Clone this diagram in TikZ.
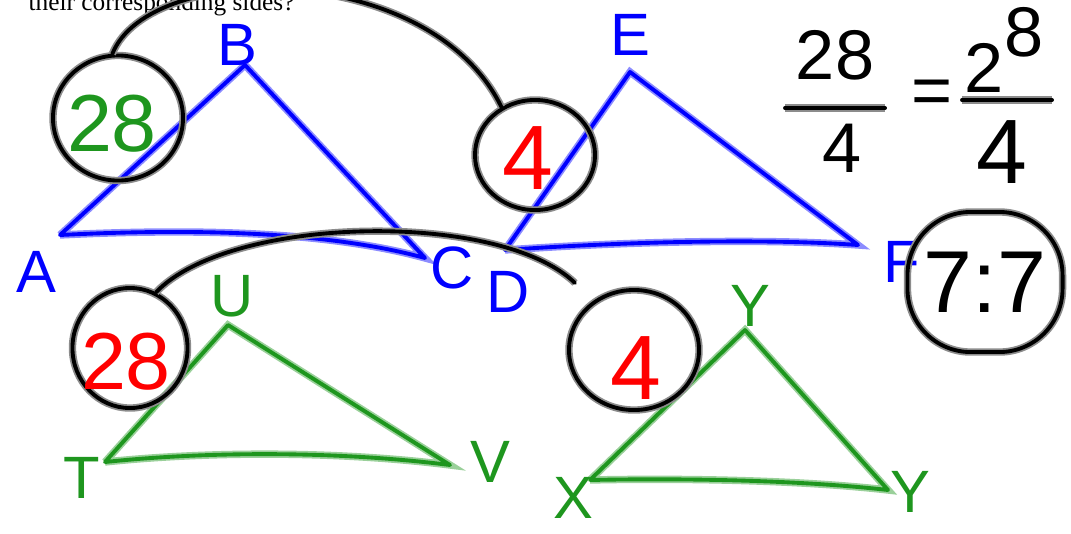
\documentclass[tikz,border=0pt]{standalone}
\usepackage{fontspec}
\setmainfont{Liberation Serif}
\setsansfont{Liberation Sans}
\usetikzlibrary{shapes.geometric}

\definecolor{penblue}{RGB}{0,0,255}
\definecolor{pengreen}{RGB}{30,150,30}
\definecolor{penred}{RGB}{255,0,0}

\tikzset{
  ink/.style={line width=1.1pt, line cap=round, line join=round,
    preaction={draw=#1!45, line width=2.1pt}},
  ink/.default=black,
  letter/.style={font=\sffamily\fontsize{17}{19}\selectfont, inner sep=0pt},
  bignum/.style={font=\sffamily\fontsize{20}{22}\selectfont, inner sep=0pt},
  ringnum/.style={font=\sffamily\fontsize{26}{28}\selectfont, inner sep=0pt},
  ring/.style={ellipse, draw=black, ink, inner sep=0pt}
}

\begin{document}
\begin{tikzpicture}[x=0.01cm, y=-0.01cm]
    \useasboundingbox (0,0) rectangle (1071,533);

    % question text, cut off at the top
    \node[anchor=base west, inner sep=0pt, font=\fontsize{7.2}{8}\selectfont] (question) at (28,10) {their corresponding sides?};

    % Triangle ABC
    \coordinate (A) at (60,235);
    \coordinate (B) at (245,65);
    \coordinate (C) at (425,258);
    \draw[penblue, ink=penblue] (A) -- (B) -- (C) .. controls (330,232) and (200,228) .. (A);
    \node[letter, penblue] (labA) at (36,272) {A};
    \node[letter, penblue] (labB) at (237,45) {B};
    \node[letter, penblue] (labC) at (452,268) {C};

    % Triangle DEF
    \coordinate (D) at (505,250);
    \coordinate (E) at (630,72);
    \coordinate (F) at (858,245);
    \draw[penblue, ink=penblue] (D) -- (E) -- (F) .. controls (760,238) and (620,242) .. (D);
    \node[letter, penblue] (labD) at (508,292) {D};
    \node[letter, penblue] (labE) at (630,35) {E};
    \node[letter, penblue] (labF) at (902,262) {F};

    % Triangle TUV
    \coordinate (T) at (105,462);
    \coordinate (U) at (228,325);
    \coordinate (V) at (450,465);
    \draw[pengreen, ink=pengreen] (T) -- (U) -- (V) .. controls (330,450) and (200,452) .. (T);
    \node[letter, pengreen] (labT) at (82,478) {T};
    \node[letter, pengreen] (labU) at (232,296) {U};
    \node[letter, pengreen] (labV) at (490,462) {V};

    % Triangle XYY
    \coordinate (X) at (590,480);
    \coordinate (Y) at (745,330);
    \coordinate (Z) at (888,490);
    \draw[pengreen, ink=pengreen] (X) -- (Y) -- (Z) .. controls (800,480) and (680,478) .. (X);
    \node[letter, pengreen] (labX) at (573,498) {X};
    \node[letter, pengreen] (labY) at (750,306) {Y};
    \node[letter, pengreen] (labZ) at (910,492) {Y};

    % circled side lengths
    \node[ring, minimum width=1.3cm, minimum height=1.25cm] (sideAB) at (118,118) {};
    \node[ringnum, pengreen, font=\sffamily\fontsize{23}{25}\selectfont] (numAB) at (112,124) {28};
    \node[ring, minimum width=1.2cm, minimum height=1.1cm] (sideDE) at (535,155) {};
    \node[ringnum, penred] (numDE) at (528,158) {4};
    \node[ring, minimum width=1.15cm, minimum height=1.2cm] (sideTU) at (130,348) {};
    \node[ringnum, penred, font=\sffamily\fontsize{23}{25}\selectfont] (numTU) at (126,362) {28};
    \node[ring, minimum width=1.3cm, minimum height=1.2cm] (sideXY) at (634,350) {};
    \node[ringnum, penred] (numXY) at (636,368) {4};

    % arcs joining matching sides
    \draw[ink] (sideAB.95) .. controls (150,-40) and (430,-40) .. (sideDE.125);
    \draw[ink] (sideTU.65) .. controls (230,215) and (500,210) .. (575,283);

    % ratio
    \node[bignum] (numL) at (835,55) {28};
    \coordinate (barL1) at (785,108);
    \coordinate (barL2) at (885,108);
    \draw[ink] (barL1) -- (barL2);
    \node[bignum] (denL) at (842,148) {4};
    \node[bignum] (eqsign) at (932,97) {=};
    \node[bignum] (numR) at (1004,50) {2\raisebox{0.5em}{8}};
    \coordinate (barR1) at (962,100);
    \coordinate (barR2) at (1052,100);
    \draw[ink] (barR1) -- (barR2);
    \node[bignum, font=\sffamily\fontsize{26}{28}\selectfont] (denR) at (1002,152) {4};

    % answer
    \node[draw, ink, rounded corners=18pt, minimum width=1.55cm, minimum height=1.4cm,
      font=\sffamily\fontsize{25}{27}\selectfont] (answer) at (985,282) {7:7};
\end{tikzpicture}
\end{document}
